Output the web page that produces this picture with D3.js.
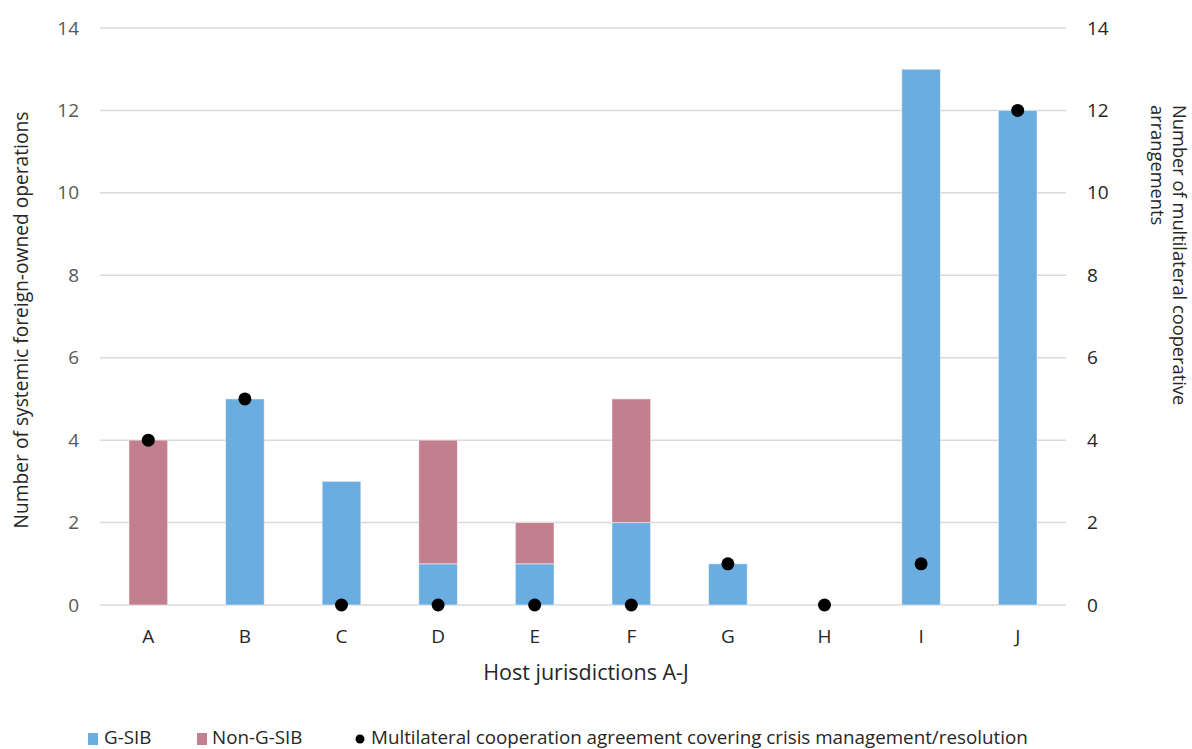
<!DOCTYPE html>
<html>
<head>
<meta charset="utf-8">
<script src="https://cdn.jsdelivr.net/npm/d3@7"></script>
<style>
  html, body { margin: 0; padding: 0; background: #fff; }
  svg { display: block; font-family: "Open Sans", "Noto Sans", sans-serif; }
</style>
</head>
<body>
<svg id="chart" width="1192" height="749"></svg>
<script>
// Host jurisdictions and counts per jurisdiction
const categories = ["A", "B", "C", "D", "E", "F", "G", "H", "I", "J"];
const gsib      = [0, 5, 3, 1, 1, 2, 1, 0, 13, 12];
const nonGsib   = [4, 0, 0, 3, 1, 3, 0, 0, 0, 0];
const agreements = [4, 5, 0, 0, 0, 0, 1, 0, 1, 12];
const yTicks = [0, 2, 4, 6, 8, 10, 12, 14];

const svg = d3.select("#chart");
const margin = { left: 100, right: 126, top: 28, bottom: 144 };
const W = 1192, H = 749;
const plotW = W - margin.left - margin.right;
const plotH = H - margin.top - margin.bottom;

const x = d3.scaleBand().domain(categories).range([margin.left, margin.left + plotW]).paddingInner(0.6).paddingOuter(0.3);
const yL = d3.scaleLinear().domain([0, 14]).range([margin.top + plotH, margin.top]);
const yR = d3.scaleLinear().domain([0, 14]).range([margin.top + plotH, margin.top]);

const blue = "#6aade0", pink = "#c27f8d";
const tickColor = "#595959";
const dark = "#262626";

// gridlines
svg.append("g").selectAll("line").data(yTicks).join("line")
  .attr("x1", margin.left).attr("x2", margin.left + plotW)
  .attr("y1", d => yL(d)).attr("y2", d => yL(d))
  .attr("stroke", "#d9d9d9").attr("stroke-width", 1.5);

// left axis
const left = svg.append("g").attr("transform", `translate(${margin.left - 21},0)`)
  .call(d3.axisLeft(yL).tickValues(yTicks).tickSize(0).tickPadding(0));
left.select(".domain").remove();
left.selectAll("text").attr("fill", tickColor).attr("font-size", 19).attr("font-family", "Open Sans");

// right axis
const right = svg.append("g").attr("transform", `translate(${margin.left + plotW + 21},0)`)
  .call(d3.axisRight(yR).tickValues(yTicks).tickSize(0).tickPadding(0));
right.select(".domain").remove();
right.selectAll("text").attr("fill", dark).attr("font-size", 19).attr("font-family", "Open Sans");

// stacked bars
const stackData = categories.map((c, i) => ({ cat: c, gsib: gsib[i], nonGsib: nonGsib[i] }));
const stack = d3.stack().keys(["gsib", "nonGsib"])(stackData);
const colors = { gsib: blue, nonGsib: pink };
svg.append("g").selectAll("g").data(stack).join("g")
  .attr("fill", d => colors[d.key])
  .selectAll("rect").data(d => d.filter(p => p[1] > p[0])).join("rect")
  .attr("x", d => x(d.data.cat))
  .attr("width", x.bandwidth())
  .attr("y", d => yL(d[1]))
  .attr("height", d => yL(d[0]) - yL(d[1]))
  .attr("stroke", "#ffffff").attr("stroke-opacity", 0.5).attr("stroke-width", 1);

// agreement markers
svg.append("g").selectAll("circle").data(categories).join("circle")
  .attr("cx", d => x(d) + x.bandwidth() / 2)
  .attr("cy", (d, i) => yR(agreements[i]))
  .attr("r", 6.5).attr("fill", "#000");

// category labels
svg.append("g").selectAll("text").data(categories).join("text")
  .attr("x", d => x(d) + x.bandwidth() / 2)
  .attr("y", 643)
  .attr("text-anchor", "middle").attr("font-size", 19).attr("fill", dark)
  .text(d => d);

// axis titles
svg.append("text").attr("x", 586).attr("y", 680).attr("text-anchor", "middle")
  .attr("font-size", 21.5).attr("fill", dark).text("Host jurisdictions A-J");

svg.append("text").attr("transform", "translate(28,320) rotate(-90)")
  .attr("text-anchor", "middle").attr("font-size", 19.2).attr("fill", dark)
  .text("Number of systemic foreign-owned operations");

const rt = svg.append("text").attr("transform", "translate(1173,105) rotate(90)")
  .attr("text-anchor", "start").attr("font-size", 18.3).attr("fill", dark);
rt.append("tspan").attr("x", 0).attr("y", 0).text("Number of multilateral cooperative");
rt.append("tspan").attr("x", 0).attr("dy", 22).text("arrangements");

// legend
const leg = svg.append("g").attr("font-size", 18.8).attr("fill", dark);
leg.append("rect").attr("x", 88).attr("y", 733).attr("width", 10).attr("height", 12).attr("fill", blue);
leg.append("text").attr("x", 104).attr("y", 744).text("G-SIB");
leg.append("rect").attr("x", 197).attr("y", 733).attr("width", 10).attr("height", 12).attr("fill", pink);
leg.append("text").attr("x", 212).attr("y", 744).text("Non-G-SIB");
leg.append("circle").attr("cx", 360).attr("cy", 739).attr("r", 4.5).attr("fill", "#000");
leg.append("text").attr("x", 371).attr("y", 744).text("Multilateral cooperation agreement covering crisis management/resolution");
</script>
</body>
</html>
